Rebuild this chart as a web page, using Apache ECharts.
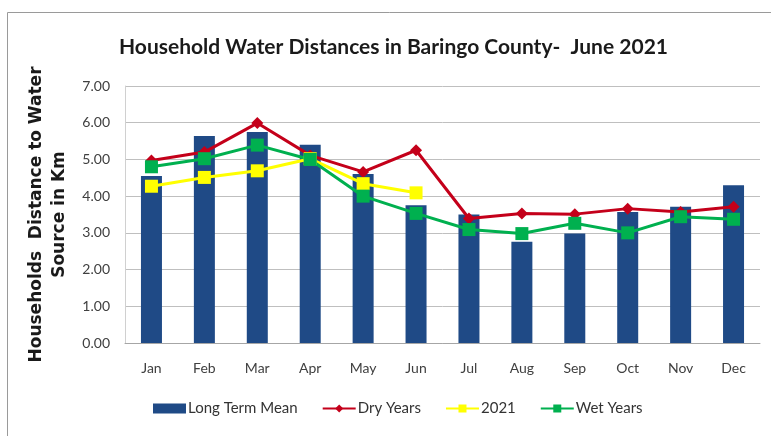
<!DOCTYPE html>
<html>
<head>
<meta charset="utf-8">
<title>Household Water Distances in Baringo County</title>
<script src="https://cdn.jsdelivr.net/npm/echarts@6/dist/echarts.min.js"></script>
<style>
    html, body { margin: 0; padding: 0; background: #fff; }
    #water-chart { width: 771px; height: 436px; }
</style>
</head>
<body>
<div id="water-chart"></div>
<script>
// month categories
const months = ['Jan', 'Feb', 'Mar', 'Apr', 'May', 'Jun', 'Jul', 'Aug', 'Sep', 'Oct', 'Nov', 'Dec'];
// distance values in km
const longTermMean = [4.55, 5.64, 5.75, 5.40, 4.60, 3.75, 3.50, 2.76, 2.98, 3.57, 3.71, 4.30];
const dryYears = [4.97, 5.20, 5.99, 5.11, 4.66, 5.25, 3.39, 3.53, 3.51, 3.66, 3.57, 3.71];
const year2021 = [4.27, 4.51, 4.69, 5.02, 4.34, 4.09];
const wetYears = [4.80, 5.02, 5.39, 5.00, 4.00, 3.53, 3.09, 2.98, 3.26, 3.00, 3.44, 3.37];
// y axis ticks
const yMin = 0;
const yMax = 7;
const yStep = 1;

const labelFont = 'Lato, "Open Sans", sans-serif';

let myChart = echarts.init(document.getElementById('water-chart'));

myChart.setOption({
    animation: false,
    title: {
        text: 'Household Water Distances in Baringo County-  June 2021',
        left: 114,
        top: 32,
        textStyle: {
            fontFamily: labelFont,
            fontSize: 21,
            fontWeight: 'bold',
            color: '#1a1a1a'
        }
    },
    // thin grey frame round the chart
    graphic: [
        {
            type: 'rect',
            shape: { x: 7.5, y: 12.5, width: 800, height: 500 },
            style: { fill: 'none', stroke: '#9a9a9a', lineWidth: 1 },
            silent: true
        }
    ],
    legend: {
        bottom: 15,
        left: 148,
        itemGap: 24,
        itemWidth: 33,
        itemHeight: 10,
        textStyle: {
            fontFamily: labelFont,
            fontSize: 15,
            color: '#333',
            padding: [0, 0, 0, -3]
        },
        data: [
            { name: 'Long Term Mean', icon: 'rect' },
            'Dry Years',
            '2021',
            'Wet Years'
        ]
    },
    grid: {
        left: 125,
        right: 11,
        top: 86,
        bottom: 93
    },
    xAxis: {
        type: 'category',
        data: months,
        axisTick: { show: false },
        axisLine: { lineStyle: { color: '#a6a6a6' } },
        axisLabel: {
            margin: 18,
            fontFamily: labelFont,
            fontSize: 14,
            color: '#404040'
        }
    },
    yAxis: {
        type: 'value',
        min: yMin,
        max: yMax,
        interval: yStep,
        name: 'Households  Distance to Water\nSource in Km',
        nameLocation: 'middle',
        nameRotate: 90,
        nameGap: 51,
        nameTextStyle: {
            fontFamily: '"DejaVu Sans", sans-serif',
            fontSize: 17,
            fontWeight: 'bold',
            color: '#1a1a1a',
            lineHeight: 23
        },
        axisLine: { show: true, lineStyle: { color: '#d0d0d0' } },
        axisTick: { show: false },
        splitLine: { lineStyle: { color: '#bfbfbf' } },
        axisLabel: {
            margin: 15,
            fontFamily: labelFont,
            fontSize: 14,
            color: '#404040',
            formatter: function (v) { return v.toFixed(2); }
        }
    },
    series: [
        {
            name: 'Long Term Mean',
            type: 'bar',
            data: longTermMean,
            barWidth: 21,
            itemStyle: { color: '#1f4a86' }
        },
        {
            name: 'Dry Years',
            type: 'line',
            data: dryYears,
            symbol: 'diamond',
            symbolSize: 12,
            lineStyle: { color: '#c4001a', width: 3 },
            itemStyle: { color: '#c4001a' }
        },
        {
            name: '2021',
            type: 'line',
            data: year2021,
            symbol: 'rect',
            symbolSize: 13,
            lineStyle: { color: '#ffff00', width: 3 },
            itemStyle: { color: '#ffff00' }
        },
        {
            name: 'Wet Years',
            type: 'line',
            data: wetYears,
            symbol: 'rect',
            symbolSize: 13,
            lineStyle: { color: '#00b04f', width: 3 },
            itemStyle: { color: '#00b04f' }
        }
    ]
});
window.addEventListener('resize', function () {
    myChart.resize();
});
</script>
</body>
</html>
